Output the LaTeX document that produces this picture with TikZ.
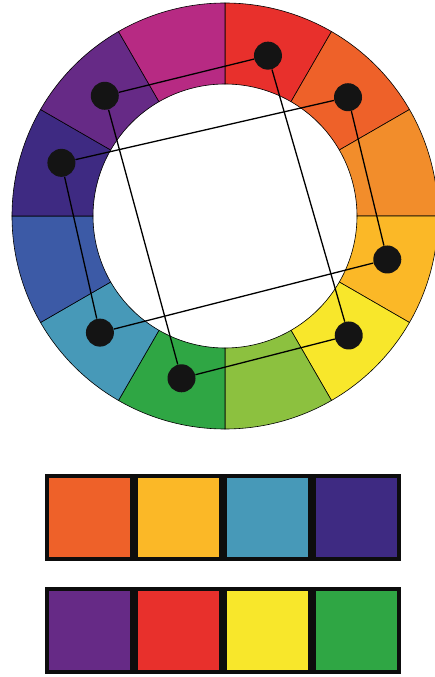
\documentclass[tikz,border=0pt]{standalone}
\usepackage{tikz}
\usetikzlibrary{positioning}

\definecolor{cRed}{HTML}{E8302C}
\definecolor{cRedOr}{HTML}{EE6129}
\definecolor{cOrange}{HTML}{F28D2B}
\definecolor{cYelOr}{HTML}{FBB827}
\definecolor{cYellow}{HTML}{F8E72B}
\definecolor{cYelGr}{HTML}{8CC13F}
\definecolor{cGreen}{HTML}{2FA644}
\definecolor{cTeal}{HTML}{4799B8}
\definecolor{cBlue}{HTML}{3C5AA6}
\definecolor{cIndigo}{HTML}{3E2A82}
\definecolor{cViolet}{HTML}{662A86}
\definecolor{cMagenta}{HTML}{B72A83}

\begin{document}
\begin{tikzpicture}[x=1pt, y=1pt, thick, text=black,
        punto/.style={circle, fill=black!92, minimum size=28pt, inner sep=0pt},
        muestra/.style={draw=black!95, line width=4pt, outer sep=0pt, inner sep=0pt, minimum width=85pt, minimum height=83pt}]
        \useasboundingbox (-225,216) rectangle (209,-461);

        % Rueda de colores (12 sectores)
        \filldraw[fill=cRed, draw=black, line width=0.6pt] (60:132pt) arc[start angle=60, end angle=90, radius=132pt] -- (90:213pt) arc[start angle=90, end angle=60, radius=213pt] -- cycle;
        \filldraw[fill=cRedOr, draw=black, line width=0.6pt] (30:132pt) arc[start angle=30, end angle=60, radius=132pt] -- (60:213pt) arc[start angle=60, end angle=30, radius=213pt] -- cycle;
        \filldraw[fill=cOrange, draw=black, line width=0.6pt] (0:132pt) arc[start angle=0, end angle=30, radius=132pt] -- (30:213pt) arc[start angle=30, end angle=0, radius=213pt] -- cycle;
        \filldraw[fill=cYelOr, draw=black, line width=0.6pt] (-30:132pt) arc[start angle=-30, end angle=0, radius=132pt] -- (0:213pt) arc[start angle=0, end angle=-30, radius=213pt] -- cycle;
        \filldraw[fill=cYellow, draw=black, line width=0.6pt] (-60:132pt) arc[start angle=-60, end angle=-30, radius=132pt] -- (-30:213pt) arc[start angle=-30, end angle=-60, radius=213pt] -- cycle;
        \filldraw[fill=cYelGr, draw=black, line width=0.6pt] (-90:132pt) arc[start angle=-90, end angle=-60, radius=132pt] -- (-60:213pt) arc[start angle=-60, end angle=-90, radius=213pt] -- cycle;
        \filldraw[fill=cGreen, draw=black, line width=0.6pt] (-120:132pt) arc[start angle=-120, end angle=-90, radius=132pt] -- (-90:213pt) arc[start angle=-90, end angle=-120, radius=213pt] -- cycle;
        \filldraw[fill=cTeal, draw=black, line width=0.6pt] (-150:132pt) arc[start angle=-150, end angle=-120, radius=132pt] -- (-120:213pt) arc[start angle=-120, end angle=-150, radius=213pt] -- cycle;
        \filldraw[fill=cBlue, draw=black, line width=0.6pt] (-180:132pt) arc[start angle=-180, end angle=-150, radius=132pt] -- (-150:213pt) arc[start angle=-150, end angle=-180, radius=213pt] -- cycle;
        \filldraw[fill=cIndigo, draw=black, line width=0.6pt] (150:132pt) arc[start angle=150, end angle=180, radius=132pt] -- (180:213pt) arc[start angle=180, end angle=150, radius=213pt] -- cycle;
        \filldraw[fill=cViolet, draw=black, line width=0.6pt] (120:132pt) arc[start angle=120, end angle=150, radius=132pt] -- (150:213pt) arc[start angle=150, end angle=120, radius=213pt] -- cycle;
        \filldraw[fill=cMagenta, draw=black, line width=0.6pt] (90:132pt) arc[start angle=90, end angle=120, radius=132pt] -- (120:213pt) arc[start angle=120, end angle=90, radius=213pt] -- cycle;

        % Puntos del esquema tetradico
        \node[punto] (pRed) at (75:166pt) {};
        \node[punto] (pRedOr) at (44:171pt) {};
        \node[punto] (pYelOr) at (-15:168pt) {};
        \node[punto] (pYellow) at (-44:172pt) {};
        \node[punto] (pGreen) at (-105:168pt) {};
        \node[punto] (pTeal) at (-137:171pt) {};
        \node[punto] (pIndigo) at (162:172pt) {};
        \node[punto] (pViolet) at (135:170pt) {};

        % Rectangulos
        \draw[line width=1.3pt] (pViolet) -- (pRed) -- (pYellow) -- (pGreen) -- (pViolet);
        \draw[line width=1.3pt] (pIndigo) -- (pRedOr) -- (pYelOr) -- (pTeal) -- (pIndigo);

        % Muestras de color
        \node[muestra, fill=cRedOr] (a1) at (-135.5,-301) {};
        \node[muestra, fill=cYelOr, right=4pt of a1] (a2) {};
        \node[muestra, fill=cTeal, right=4pt of a2] (a3) {};
        \node[muestra, fill=cIndigo, right=4pt of a3] (a4) {};

        \node[muestra, fill=cViolet] (b1) at (-135.5,-414.5) {};
        \node[muestra, fill=cRed, right=4pt of b1] (b2) {};
        \node[muestra, fill=cYellow, right=4pt of b2] (b3) {};
        \node[muestra, fill=cGreen, right=4pt of b3] (b4) {};

    \end{tikzpicture}
\end{document}
